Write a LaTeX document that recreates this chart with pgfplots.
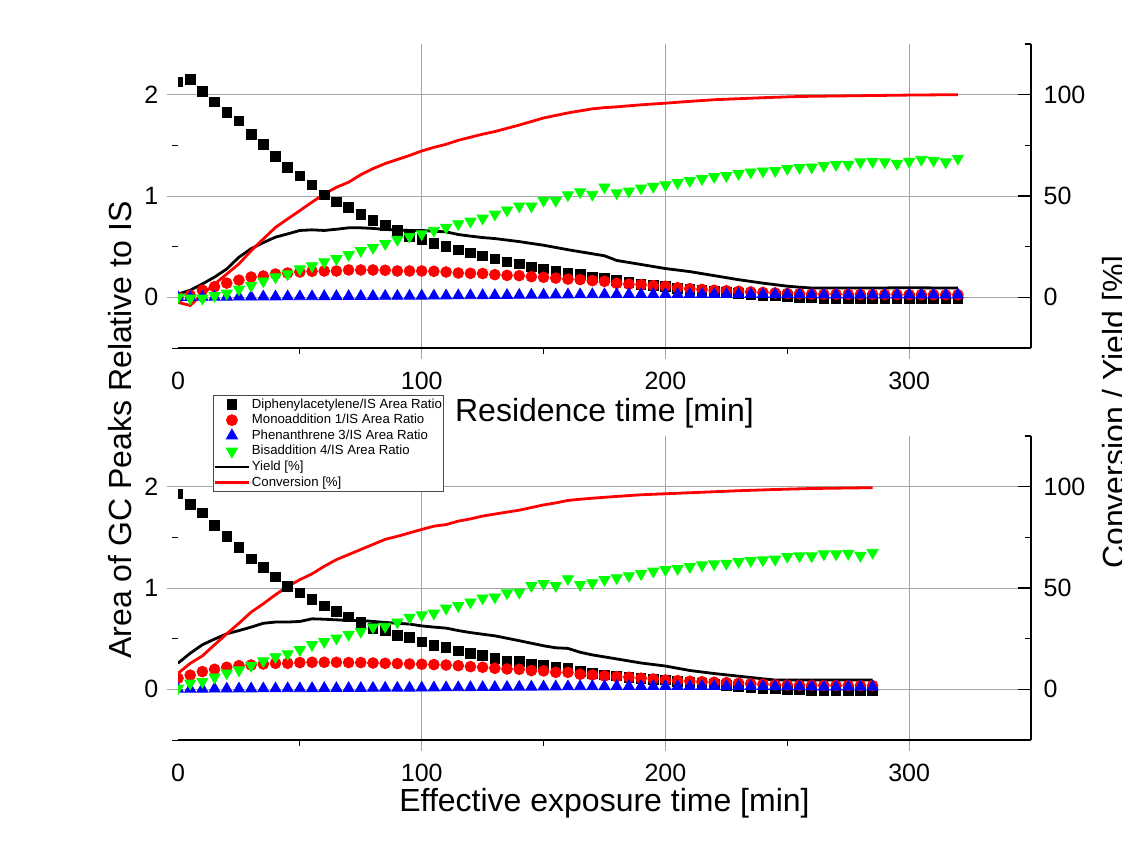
\documentclass[border=0pt]{standalone}
\usepackage{fontspec}
\setmainfont{Liberation Sans}
\usepackage{pgfplots}
\usepackage{pgfplotstable}
\pgfplotsset{compat=1.18}
\definecolor{mygreen}{RGB}{0,255,0}
\definecolor{gridgray}{RGB}{165,165,165}

% top panel markers: x, square, circle, up-triangle, down-triangle
\pgfplotstableread{
x A B C D
0 2.125 0.00 0.000 0.000
5 2.15 0.02 0.000 -0.010
10 2.03 0.07 0.002 -0.010
15 1.93 0.105 0.003 0.015
20 1.825 0.14 0.004 0.04
25 1.74 0.17 0.005 0.08
30 1.61 0.20 0.005 0.115
35 1.51 0.21 0.006 0.16
40 1.39 0.23 0.006 0.20
45 1.285 0.24 0.007 0.23
50 1.20 0.25 0.008 0.28
55 1.11 0.257 0.008 0.31
60 1.01 0.26 0.009 0.35
65 0.94 0.26 0.010 0.38
70 0.89 0.27 0.010 0.42
75 0.82 0.27 0.010 0.46
80 0.76 0.27 0.011 0.49
85 0.71 0.267 0.012 0.53
90 0.66 0.26 0.012 0.57
95 0.60 0.26 0.013 0.60
100 0.57 0.26 0.014 0.625
105 0.53 0.257 0.015 0.66
110 0.50 0.25 0.016 0.69
115 0.47 0.24 0.017 0.725
120 0.44 0.237 0.018 0.75
125 0.41 0.235 0.019 0.78
130 0.38 0.224 0.020 0.82
135 0.35 0.217 0.021 0.86
140 0.33 0.214 0.022 0.90
145 0.30 0.204 0.023 0.90
150 0.28 0.198 0.024 0.955
155 0.257 0.19 0.025 0.955
160 0.237 0.18 0.026 1.01
165 0.224 0.175 0.027 1.04
170 0.198 0.165 0.028 1.015
175 0.19 0.158 0.028 1.087
180 0.165 0.138 0.029 1.03
185 0.148 0.13 0.03 1.047
190 0.13 0.125 0.03 1.077
195 0.12 0.115 0.03 1.093
200 0.105 0.109 0.03 1.11
205 0.09 0.095 0.03 1.13
210 0.08 0.085 0.03 1.15
215 0.068 0.078 0.03 1.17
220 0.058 0.07 0.03 1.19
225 0.048 0.065 0.03 1.20
230 0.038 0.06 0.03 1.22
235 0.03 0.053 0.03 1.235
240 0.02 0.048 0.03 1.245
245 0.015 0.043 0.03 1.25
250 0.01 0.038 0.029 1.27
255 0.0 0.035 0.028 1.28
260 -0.005 0.032 0.027 1.285
265 -0.01 0.03 0.026 1.30
270 -0.01 0.03 0.025 1.31
275 -0.01 0.029 0.025 1.31
280 -0.01 0.028 0.025 1.335
285 -0.01 0.028 0.025 1.34
290 -0.01 0.027 0.025 1.335
295 -0.01 0.027 0.025 1.32
300 -0.01 0.026 0.025 1.34
305 -0.01 0.026 0.025 1.36
310 -0.01 0.025 0.025 1.35
315 -0.01 0.025 0.025 1.335
320 -0.01 0.025 0.025 1.37
}\topmarks

% top panel lines: x, yield %, conversion %
\pgfplotstableread{
x Y Cv
0 1.6 -2.5
5 3.5 -4.0
10 6.6 1.6
15 10.0 6.5
20 14.0 11.5
25 19.8 16.5
30 24.0 23.0
35 27.0 28.8
40 29.7 34.5
45 31.3 38.7
50 33.0 42.8
55 33.3 47.0
60 33.0 51.0
65 33.6 54.3
70 34.3 56.8
75 34.3 60.5
80 34.0 63.5
85 33.5 66.0
90 33.2 68.0
95 33.0 70.0
100 33.0 72.2
105 32.6 74.0
110 32.3 75.5
115 31.0 77.5
120 30.2 79.0
125 29.5 80.5
130 29.0 81.8
140 27.5 85.0
150 25.7 88.5
160 23.5 91.0
170 21.5 93.0
175 20.5 93.6
180 18.2 94.0
190 16.2 95.0
200 14.2 95.8
210 12.7 96.7
220 10.7 97.5
230 8.7 98.0
240 7.0 98.5
250 5.5 98.9
255 5.0 99.1
260 4.6 99.2
280 4.6 99.5
300 4.7 99.8
320 4.6 100.0
}\toplines

% bottom panel markers
\pgfplotstableread{
x A B C D
0 1.93 0.11 0.003 0.01
5 1.825 0.14 0.004 0.06
10 1.74 0.175 0.004 0.076
15 1.617 0.198 0.005 0.12
20 1.51 0.218 0.005 0.16
25 1.40 0.234 0.006 0.19
30 1.287 0.24 0.006 0.234
35 1.205 0.25 0.007 0.28
40 1.11 0.257 0.007 0.32
45 1.017 0.257 0.008 0.35
50 0.95 0.264 0.008 0.39
55 0.89 0.267 0.009 0.44
60 0.825 0.267 0.010 0.47
65 0.77 0.267 0.010 0.505
70 0.713 0.264 0.011 0.54
75 0.663 0.264 0.011 0.57
80 0.604 0.26 0.012 0.614
85 0.58 0.257 0.013 0.62
90 0.535 0.254 0.013 0.663
95 0.51 0.25 0.014 0.71
100 0.47 0.248 0.015 0.733
105 0.435 0.244 0.016 0.75
110 0.415 0.24 0.017 0.80
115 0.38 0.234 0.018 0.825
120 0.356 0.224 0.019 0.86
125 0.335 0.218 0.020 0.90
130 0.307 0.208 0.021 0.91
135 0.28 0.201 0.022 0.95
140 0.274 0.198 0.023 0.957
145 0.25 0.185 0.024 1.023
150 0.234 0.182 0.025 1.043
155 0.218 0.168 0.026 1.023
160 0.208 0.168 0.027 1.09
165 0.175 0.149 0.028 1.033
170 0.158 0.142 0.028 1.05
175 0.142 0.132 0.029 1.083
180 0.132 0.125 0.03 1.10
185 0.119 0.119 0.03 1.12
190 0.109 0.11 0.03 1.14
195 0.099 0.102 0.03 1.165
200 0.092 0.092 0.03 1.18
205 0.08 0.086 0.03 1.19
210 0.07 0.08 0.03 1.21
215 0.06 0.075 0.03 1.227
220 0.05 0.07 0.03 1.237
225 0.04 0.066 0.03 1.243
230 0.03 0.06 0.03 1.26
235 0.02 0.055 0.03 1.27
240 0.01 0.05 0.03 1.276
245 0.005 0.045 0.029 1.283
250 0.0 0.042 0.028 1.31
255 -0.005 0.04 0.027 1.316
260 -0.01 0.04 0.026 1.316
265 -0.01 0.038 0.025 1.335
270 -0.01 0.037 0.025 1.335
275 -0.01 0.037 0.025 1.34
280 -0.01 0.036 0.025 1.32
285 -0.012 0.036 0.025 1.35
}\botmarks

% bottom panel lines
\pgfplotstableread{
x Y Cv
0 12.9 7.9
5 17.8 12.8
10 22.0 16.5
15 24.8 22.0
20 27.4 27.4
25 29.0 32.6
30 30.7 38.1
35 32.6 42.2
40 33.2 46.7
45 33.2 50.8
50 33.5 54.1
55 34.8 57.0
60 34.6 60.7
65 34.3 64.0
70 34.0 66.5
75 34.0 69.0
80 33.5 71.5
85 33.0 74.0
90 32.6 75.5
95 32.2 77.2
100 31.3 78.9
105 30.7 80.5
110 30.2 81.3
115 29.0 83.0
120 28.0 84.1
125 27.2 85.5
130 26.4 86.5
140 24.0 88.4
150 21.5 91.0
155 20.5 92.0
160 20.2 93.2
165 18.3 93.8
170 17.0 94.3
180 15.0 95.2
190 13.0 96.0
200 11.5 96.5
210 9.3 97.0
220 7.8 97.5
230 6.5 98.0
240 5.2 98.4
245 4.6 98.6
260 4.6 99.1
285 4.6 99.5
}\botlines

\pgfplotsset{
  panel/.style={
    scale only axis, width=426.5pt, height=152pt,
    xmin=0, xmax=350,
    /pgf/number format/assume math mode=true,
    tick label style={font=\fontsize{12.5}{14}\selectfont},
    label style={font=\fontsize{16}{18}\selectfont},
  },
  rightax/.style={
    panel,
    axis x line*=bottom, axis y line*=right,
    ymin=-25, ymax=125,
    ytick={0,50,100}, minor ytick={-25,25,75,125},
    xtick={100,200,300}, xticklabels={},
    tick align=inside,
    major tick length=6.5pt, minor tick length=3pt,
    xmajorgrids, ymajorgrids,
    grid style={gridgray, line width=0.5pt},
    x axis line style={black, line width=0.6pt, -},
    y axis line style={black, line width=0.8pt, -},
    ytick style={black, line width=0.8pt},
    xtick style={draw=none},
    yticklabel style={xshift=2.8pt},
  },
  leftax/.style={
    panel,
    axis x line*=bottom, axis y line*=left,
    y axis line style={draw=none},
    x axis line style={black, line width=0.6pt, -},
    ymin=-0.5, ymax=2.5,
    ytick={0,1,2}, minor ytick={-0.5,0.5,1.5},
    xtick={100,200,300}, minor xtick={50,150,250},
    extra x ticks={0}, extra x tick style={major tick style={draw=none}},
    tick align=outside,
    major tick length=5.5pt, minor tick length=3pt,
    major tick style={gridgray, line width=0.5pt},
    minor tick style={black, line width=0.5pt},
    xticklabel style={yshift=-2.8pt},
    yticklabel style={xshift=-0.8pt},
    clip marker paths=true,
  },
  sq/.style={only marks, mark=square*, mark size=2.4pt, black, mark options={draw=black, fill=black}},
  ci/.style={only marks, mark=*, mark size=2.7pt, red, mark options={draw=red, fill=red}},
  tu/.style={only marks, mark=triangle*, mark size=3.2pt, blue, mark options={draw=blue, fill=blue}},
  td/.style={only marks, mark=triangle*, mark size=3.2pt, mygreen, mark options={draw=mygreen, fill=mygreen, rotate=180}},
  yl/.style={black, line width=1.4pt},
  cl/.style={red, line width=1.4pt},
}

\begin{document}
\begin{tikzpicture}
% ---------------- top panel ----------------
\begin{axis}[rightax, at={(89pt,255pt)}, anchor=south west]
  \addplot[yl] table[x=x, y=Y] {\toplines};
  \addplot[cl] table[x=x, y=Cv] {\toplines};
\end{axis}
\begin{axis}[leftax, at={(89pt,255pt)}, anchor=south west,
  xlabel={Residence time [min]},
  xlabel style={at={(axis description cs:0.5,-0.2434)}, anchor=base}]
  \addplot[sq] table[x=x, y=A] {\topmarks};
  \addplot[ci] table[x=x, y=B] {\topmarks};
  \addplot[tu] table[x=x, y=C] {\topmarks};
  \addplot[td] table[x=x, y=D] {\topmarks};
\end{axis}
% ---------------- bottom panel ----------------
\begin{axis}[rightax, at={(89pt,59pt)}, anchor=south west]
  \addplot[yl] table[x=x, y=Y] {\botlines};
  \addplot[cl] table[x=x, y=Cv] {\botlines};
\end{axis}
\begin{axis}[leftax, at={(89pt,59pt)}, anchor=south west,
  xlabel={Effective exposure time [min]},
  xlabel style={at={(axis description cs:0.5,-0.2336)}, anchor=base},
  legend cell align=left,
  legend style={at={(0.041,1.134)}, anchor=north west,
    draw=black!70, line width=0.5pt, fill=white,
    inner xsep=0pt, inner ysep=0.5pt, row sep=0pt,
    font=\fontsize{6.6}{7.5}\selectfont,
    nodes={inner sep=0.75pt, text height=4.9pt, text depth=1.4pt}},
  ]
  \addlegendimage{sq}
  \addlegendimage{ci}
  \addlegendimage{tu}
  \addlegendimage{td}
  \addlegendimage{yl}
  \addlegendimage{cl}
  \addplot[sq, forget plot] table[x=x, y=A] {\botmarks};
  \addplot[ci, forget plot] table[x=x, y=B] {\botmarks};
  \addplot[tu, forget plot] table[x=x, y=C] {\botmarks};
  \addplot[td, forget plot] table[x=x, y=D] {\botmarks};
  \legend{Diphenylacetylene/IS Area Ratio, Monoaddition 1/IS Area Ratio, Phenanthrene 3/IS Area Ratio, Bisaddition 4/IS Area Ratio, Yield [\%], Conversion [\%]}
\end{axis}
% shared axis titles
\node[rotate=90, anchor=north, inner sep=0pt, font=\fontsize{16}{18}\selectfont] at (54pt,214pt) {Area of GC Peaks Relative to IS};
\node[rotate=90, anchor=north, inner sep=0pt, font=\fontsize{16}{18}\selectfont] at (551pt,223pt) {Conversion / Yield [\%]};
\pgfresetboundingbox
\path[use as bounding box] (0,0) rectangle (561pt,429pt);
\end{tikzpicture}
\end{document}
